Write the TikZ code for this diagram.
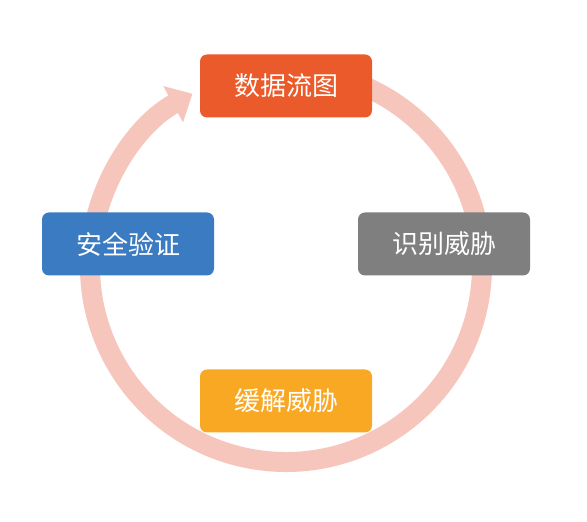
\documentclass[tikz,border=0pt]{standalone}
\usepackage{fontspec}
\newfontfamily\cjk{Noto Sans CJK SC}
\usetikzlibrary{arrows.meta}
\definecolor{ringc}{HTML}{F6C6BC}
\definecolor{boxtop}{HTML}{EA5A2A}
\definecolor{boxleft}{HTML}{3B7BC1}
\definecolor{boxright}{HTML}{7F7F7F}
\definecolor{boxbottom}{HTML}{F9A823}
\begin{document}
\begin{tikzpicture}[x=1pt,y=1pt,
  stagebox/.style={rounded corners=7pt, minimum width=172pt, minimum height=63pt,
    text=white, font=\cjk\fontsize{26}{30}\selectfont, inner sep=0pt}]
\useasboundingbox (0,0) rectangle (587,522);
\fill[white] (0,0) rectangle (587,522);
\coordinate (c) at (286,256);
\draw[ringc, line width=20pt, -{Triangle[width=40pt,length=22pt]}]
  ([shift={(80:196)}]c) arc[start angle=80, end angle=-241.5, radius=196];
\node[stagebox, fill=boxtop] (top) at (286,436) {数据流图};
\node[stagebox, fill=boxleft] (left) at (128,278) {安全验证};
\node[stagebox, fill=boxright] (right) at (444,278) {识别威胁};
\node[stagebox, fill=boxbottom] (bottom) at (286,121) {缓解威胁};
\end{tikzpicture}
\end{document}
